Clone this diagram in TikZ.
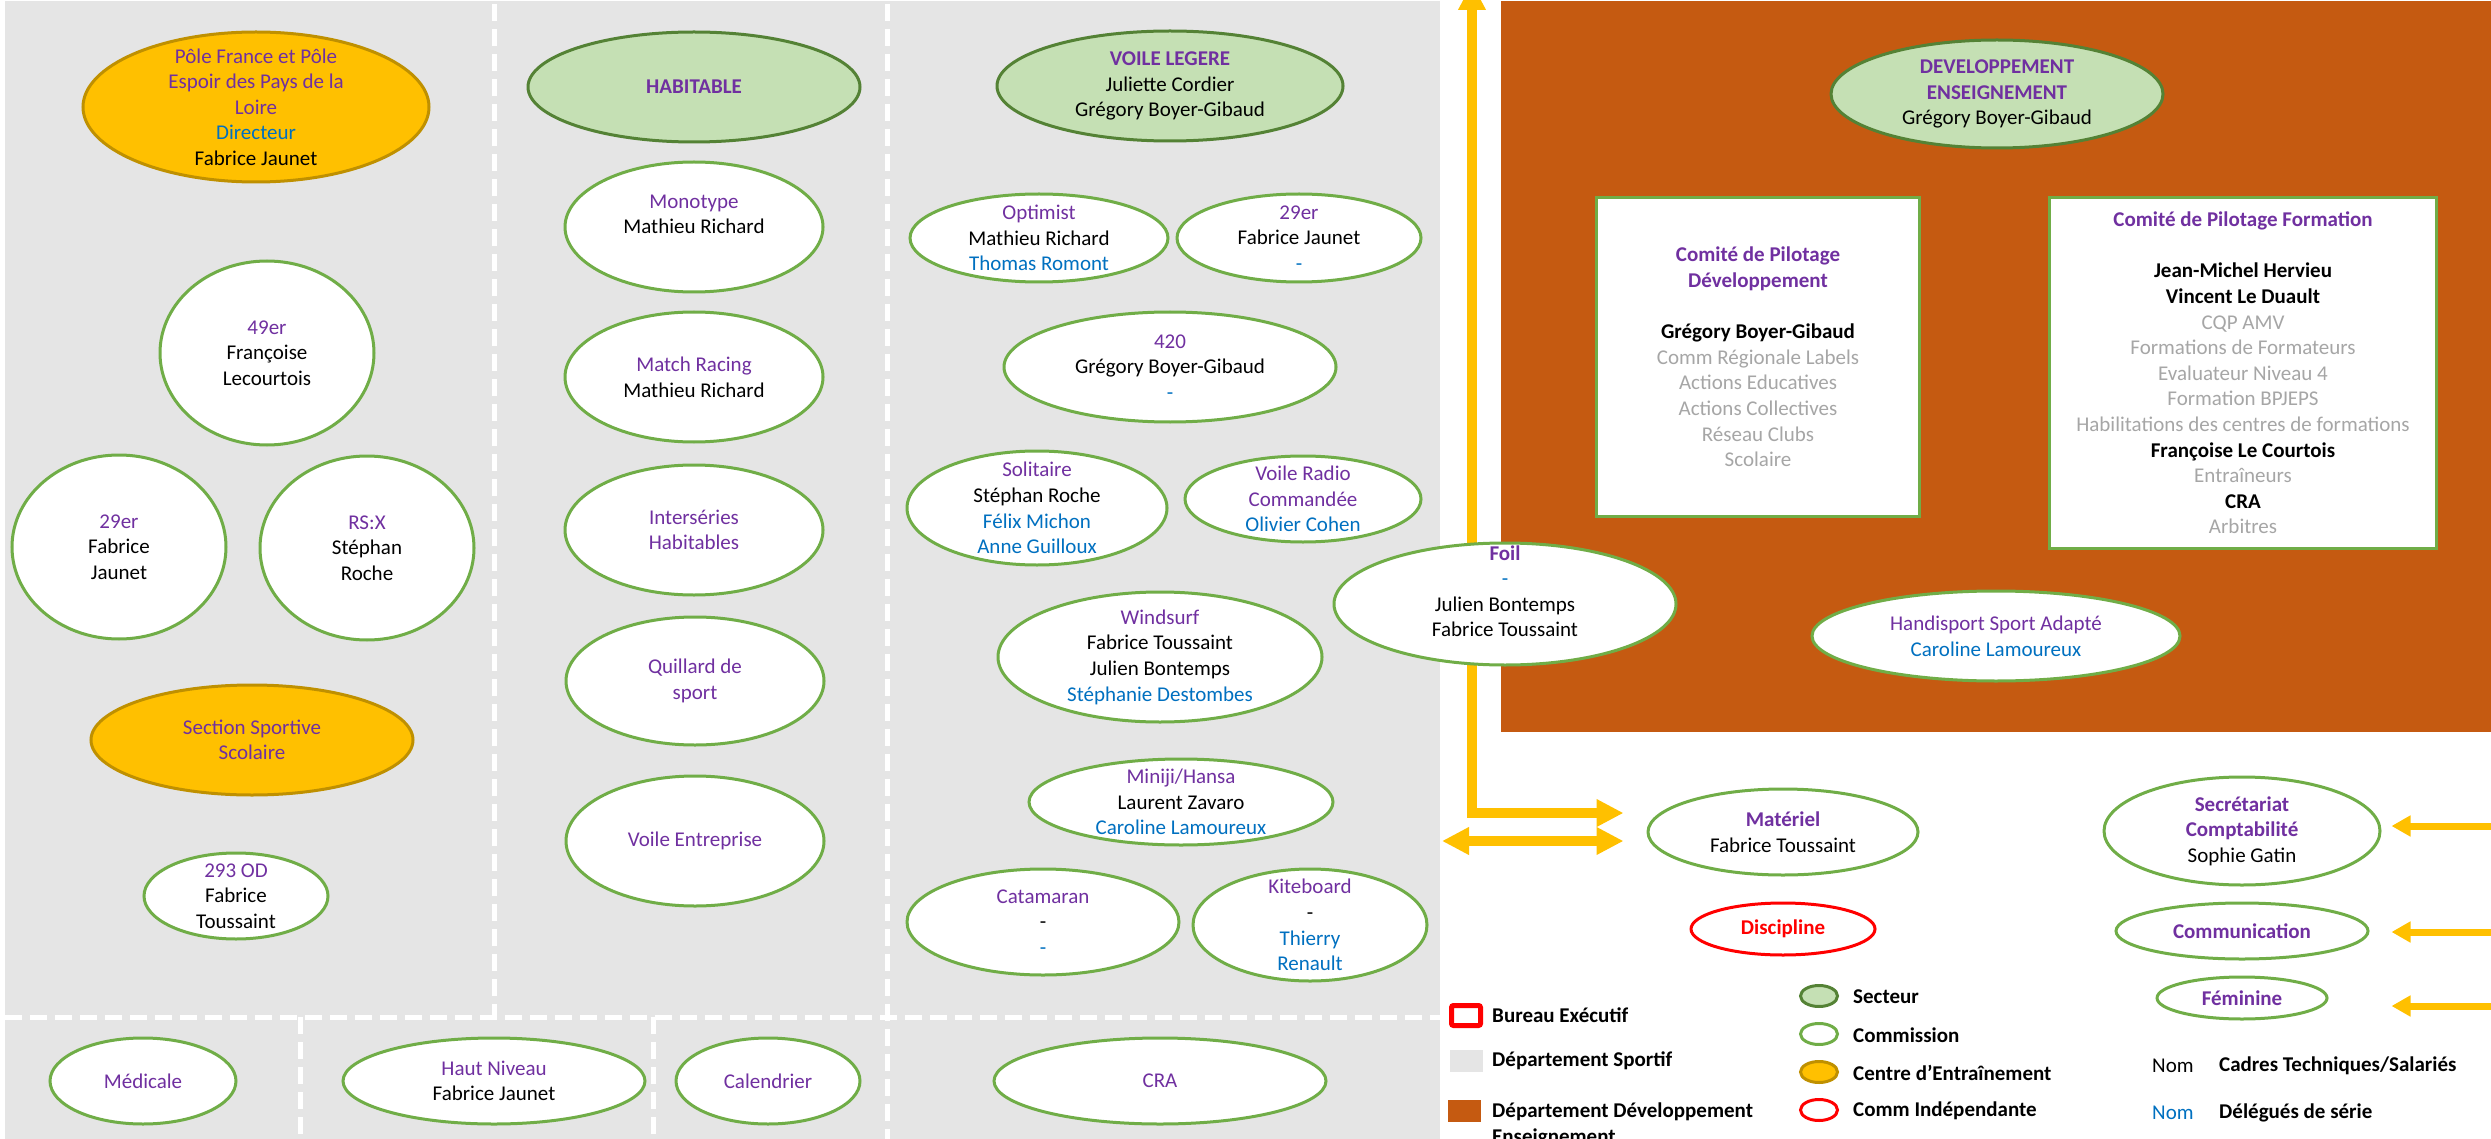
\documentclass[tikz,border=0pt]{standalone}
\usepackage{fontspec}
\setmainfont{Carlito}
\usetikzlibrary{shapes.geometric,arrows.meta}
\definecolor{pur}{HTML}{7030A0}
\definecolor{blu}{HTML}{0070C0}
\definecolor{gtx}{HTML}{A6A6A6}
\definecolor{bggrey}{HTML}{E5E5E5}
\definecolor{brn}{HTML}{C55A11}
\definecolor{grn}{HTML}{70AD47}
\definecolor{dgrn}{HTML}{548235}
\definecolor{lgrn}{HTML}{C5E0B4}
\definecolor{gold}{HTML}{FFC000}
\definecolor{dgold}{HTML}{BF9000}
\newcommand\cp[1]{\textcolor{pur}{#1}}
\newcommand\cpb[1]{\textcolor{pur}{\bfseries #1}}
\newcommand\cb[1]{\textcolor{blu}{#1}}
\newcommand\cg[1]{\textcolor{gtx}{#1}}
% name, style, x, y, width, height, text
\newcommand\ellnode[7]{%
  \node[#2, minimum width=#5pt, minimum height=#6pt] (#1) at (#3,#4) {};
  \node[tx] (#1-t) at (#1) {#7};}
\begin{document}
\begin{tikzpicture}[x=1pt,y=-1pt,
  every node/.style={font=\fontsize{21}{25.6}\selectfont},
  ov/.style={ellipse, inner sep=0pt, line width=3pt},
  comm/.style={ov, draw=grn, fill=white},
  sect/.style={ov, draw=dgrn, fill=lgrn},
  cent/.style={ov, draw=dgold, fill=gold},
  indep/.style={ov, draw=red, fill=white},
  tx/.style={align=center, inner sep=0pt},
  cbox/.style={rectangle, draw=grn, fill=white, line width=3pt, align=center, inner sep=0pt},
  sep/.style={draw=white, line width=5pt, dash pattern=on 17pt off 8pt},
  ytip/.tip={Triangle[length=27pt,width=26pt]},
  rtip/.tip={Triangle[length=19pt,width=20pt]},
  yarr/.style={draw=gold, line width=9.5pt, arrows={ytip-ytip}},
  rarr/.style={draw=gold, line width=7pt, arrows={-rtip}},
  lgt/.style={anchor=west, inner sep=0pt, font=\fontsize{21}{25.6}\selectfont\bfseries},
  lgn/.style={anchor=west, inner sep=0pt},
]
\useasboundingbox (0,0) rectangle (2491,1139);
\clip (0,0) rectangle (2491,1139);

% departments
\fill[bggrey] (5,1) rectangle (1440,1139);
\fill[brn] (1501,1) rectangle (2491,732);

% separators
\draw[sep] (494,4) -- (494,1017);
\draw[sep] (887,4) -- (887,1139);
\draw[sep] (5,1017) -- (1440,1017);
\draw[sep] (300,1017) -- (300,1139);
\draw[sep] (653,1017) -- (653,1139);

% right-hand commissions (defined before the arrows)
\ellnode{mat}{comm}{1783}{832}{270}{86}{\cpb{Matériel}\\Fabrice Toussaint}
\ellnode{disc}{indep}{1783}{929}{184}{52}{\textcolor{red}{\bfseries Discipline}}
\ellnode{secr}{comm}{2242}{831}{276}{108}{\cpb{Secrétariat}\\\cpb{Comptabilité}\\Sophie Gatin}
\ellnode{comu}{comm}{2242}{931}{252}{56}{\cpb{Communication}}
\ellnode{fem}{comm}{2242}{998}{170}{42}{\cpb{Féminine}}

% arrows
\coordinate (ltop) at (1472,-17);
\coordinate (lbend) at (1472,813);
\draw[yarr, shorten >=23pt] (ltop) -- (lbend) -- (lbend -| mat.west);
\coordinate (dl) at (1442,841);
\draw[yarr, shorten >=23pt] (dl) -- (dl -| mat.west);
\coordinate (r1) at (2491,826);
\coordinate (r2) at (2491,932);
\coordinate (r3) at (2491,1006);
\draw[rarr, shorten >=10pt] (r1) -- (r1 -| secr.east);
\draw[rarr, shorten >=22pt] (r2) -- (r2 -| comu.east);
\draw[rarr, shorten >=63pt] (r3) -- (r3 -| fem.east);

% left column
\ellnode{pole}{cent}{256}{107}{346}{150}{\cp{Pôle France et Pôle}\\\cp{Espoir des Pays de la}\\\cp{Loire}\\\cb{Directeur}\\Fabrice Jaunet}
\ellnode{fortyn}{comm}{267}{353}{214}{184}{\cp{49er}\\Françoise\\Lecourtois}
\ellnode{tnl}{comm}{119}{547}{214}{184}{\cp{29er}\\Fabrice\\Jaunet}
\ellnode{rsx}{comm}{367}{548}{214}{184}{\cp{RS:X}\\Stéphan\\Roche}
\ellnode{sss}{cent}{252}{740}{322}{110}{\cp{Section Sportive}\\\cp{Scolaire}}
\ellnode{od}{comm}{236}{896}{184}{86}{\cp{293 OD}\\Fabrice\\Toussaint}

% habitable column
\ellnode{habit}{sect}{694}{87}{332}{110}{\cpb{HABITABLE}}
\ellnode{mono}{comm}{694}{227}{258}{130}{\cp{Monotype}\\Mathieu Richard\\\mbox{}}
\ellnode{match}{comm}{694}{377}{258}{130}{\cp{Match Racing}\\Mathieu Richard}
\ellnode{inter}{comm}{694}{530}{258}{130}{\cp{Interséries}\\\cp{Habitables}}
\ellnode{quill}{comm}{695}{681}{258}{128}{\cp{Quillard de}\\\cp{sport}}
\ellnode{ventr}{comm}{695}{841}{258}{130}{\cp{Voile Entreprise}}

% voile legere column
\ellnode{vl}{sect}{1170}{86}{346}{110}{\cpb{VOILE LEGERE}\\Juliette Cordier\\Grégory Boyer-Gibaud}
\ellnode{opt}{comm}{1039}{238}{258}{88}{\cp{Optimist}\\Mathieu Richard\\\cb{Thomas Romont}}
\ellnode{tnv}{comm}{1299}{238}{244}{88}{\cp{29er}\\Fabrice Jaunet\\\cb{-}}
\ellnode{f420}{comm}{1170}{367}{332}{110}{\cp{420}\\Grégory Boyer-Gibaud\\\cb{-}}
\ellnode{sol}{comm}{1037}{508}{260}{114}{\cp{Solitaire}\\Stéphan Roche\\\cb{Félix Michon}\\\cb{Anne Guilloux}}
\ellnode{vrc}{comm}{1303}{499}{236}{86}{\cp{Voile Radio}\\\cp{Commandée}\\\cb{Olivier Cohen}}
\ellnode{wind}{comm}{1160}{657}{324}{130}{\cp{Windsurf}\\Fabrice Toussaint\\Julien Bontemps\\\cb{Stéphanie Destombes}}
\ellnode{mini}{comm}{1181}{802}{304}{86}{\cp{Miniji/Hansa}\\Laurent Zavaro\\\cb{Caroline Lamoureux}}
\ellnode{cat}{comm}{1043}{922}{272}{106}{\cp{Catamaran}\\-\\\cb{-}}
\ellnode{kite}{comm}{1310}{925}{234}{112}{\cp{Kiteboard}\\-\\\cb{Thierry}\\\cb{Renault}}
\ellnode{foil}{comm}{1505}{604}{342}{122}{\cpb{Foil}\\\cb{-}\\Julien Bontemps\\Fabrice Toussaint\\\mbox{}}

% bottom row
\ellnode{med}{comm}{143}{1081}{186}{86}{\cp{Médicale}}
\ellnode{haut}{comm}{494}{1081}{302}{86}{\cp{Haut Niveau}\\Fabrice Jaunet}
\ellnode{cal}{comm}{768}{1081}{184}{86}{\cp{Calendrier}}
\ellnode{cra}{comm}{1160}{1081}{332}{86}{\cp{CRA}}

% developpement enseignement
\ellnode{deve}{sect}{1997}{94}{332}{108}{\cpb{DEVELOPPEMENT}\\\cpb{ENSEIGNEMENT}\\Grégory Boyer-Gibaud}
\node[cbox, minimum width=323pt, minimum height=319pt] (cdev) at (1758,357)
  {\cpb{Comité de Pilotage}\\\cpb{Développement}\\\mbox{}\\\textbf{Grégory Boyer-Gibaud}\\\cg{Comm Régionale Labels}\\\cg{Actions Educatives}\\\cg{Actions Collectives}\\\cg{Réseau Clubs}\\\cg{Scolaire}};
\node[cbox, minimum width=387pt, minimum height=351pt] (cform) at (2243,373)
  {\cpb{Comité de Pilotage Formation}\\\mbox{}\\\textbf{Jean-Michel Hervieu}\\\textbf{Vincent Le Duault}\\\cg{CQP AMV}\\\cg{Formations de Formateurs}\\\cg{Evaluateur Niveau 4}\\\cg{Formation BPJEPS}\\\cg{Habilitations des centres de formations}\\\textbf{Françoise Le Courtois}\\\cg{Entraîneurs}\\\textbf{CRA}\\\cg{Arbitres}};
\ellnode{handi}{comm}{1996}{636}{368}{90}{\cp{Handisport Sport Adapté}\\\cb{Caroline Lamoureux}}

% legend
\node[draw=red, line width=5pt, rounded corners=2pt, minimum width=29pt, minimum height=20pt, inner sep=0pt] (lgbe) at (1466,1015.5) {};
\node[lgt] (lgbe-t) at (1492,1015) {Bureau Exécutif};
\node[fill=bggrey, minimum width=33pt, minimum height=22pt, inner sep=0pt] (lgds) at (1466.5,1061) {};
\node[lgt] (lgds-t) at (1492,1061) {Département Sportif};
\node[fill=brn, minimum width=33pt, minimum height=22pt, inner sep=0pt] (lgdd) at (1464.5,1111) {};
\node[lgt, anchor=north west, align=left] (lgdd-t) at (1492,1103) {Département Développement\\Enseignement};

\node[sect, minimum width=37pt, minimum height=21pt] (lgsec) at (1819,996) {};
\node[lgt] (lgsec-t) at (1853,997) {Secteur};
\node[comm, minimum width=37pt, minimum height=21pt] (lgcom) at (1819,1034) {};
\node[lgt] (lgcom-t) at (1853,1035) {Commission};
\node[cent, minimum width=37pt, minimum height=21pt] (lgcen) at (1819,1072) {};
\node[lgt] (lgcen-t) at (1853,1073) {Centre d’Entraînement};
\node[indep, minimum width=37pt, minimum height=21pt] (lgind) at (1819,1110) {};
\node[lgt] (lgind-t) at (1853,1111) {Comm Indépendante};

\node[lgn] (lgnom1) at (2152,1066) {Nom};
\node[lgt] (lgcad) at (2219,1066) {Cadres Techniques/Salariés};
\node[lgn, text=blu] (lgnom2) at (2152,1113) {Nom};
\node[lgt] (lgdel) at (2219,1113) {Délégués de série};
\end{tikzpicture}
\end{document}
